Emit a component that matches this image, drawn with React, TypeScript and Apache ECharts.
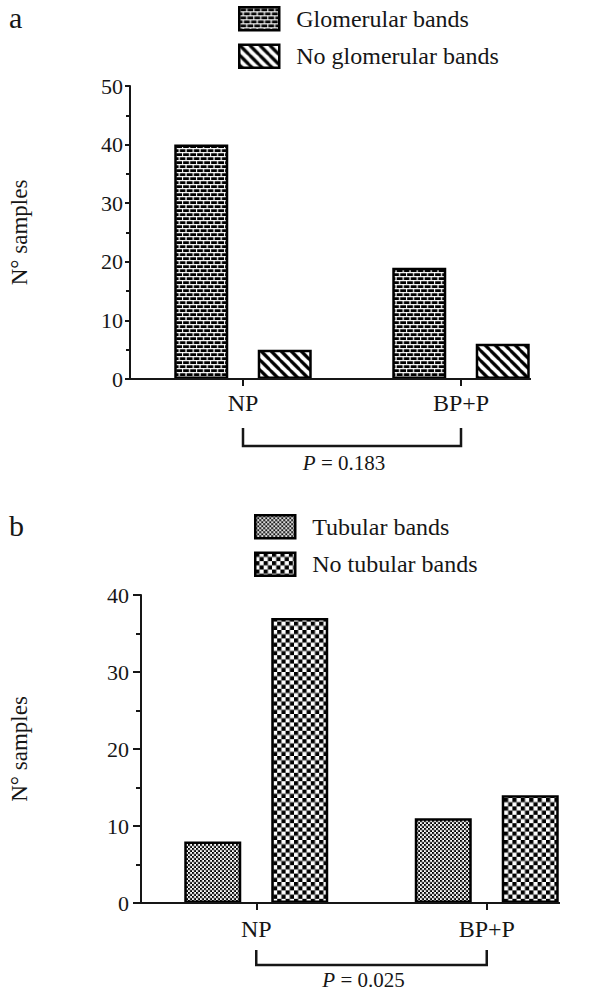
import React, { useEffect, useRef } from 'react';
import * as echarts from 'echarts';

// ---------- Panel a ----------
const categoriesA = ['NP', 'BP+P'];
const glomerularBands = [40, 19];
const noGlomerularBands = [5, 6];
const yMinA = 0;
const yMaxA = 50;
const yStepA = 10;
const pValueA = '0.183';

// ---------- Panel b ----------
const categoriesB = ['NP', 'BP+P'];
const tubularBands = [8, 11];
const noTubularBands = [37, 14];
const yMinB = 0;
const yMaxB = 40;
const yStepB = 10;
const pValueB = '0.025';

const FONT = '"Liberation Serif","Times New Roman",Times,serif';
const INK = '#161616';

type Draw = (ctx: CanvasRenderingContext2D) => void;
function makePattern(w: number, h: number, draw: Draw) {
  const S = 10;
  const c = document.createElement('canvas');
  c.width = Math.round(w * S);
  c.height = Math.round(h * S);
  const ctx = c.getContext('2d') as CanvasRenderingContext2D;
  ctx.scale(S, S);
  draw(ctx);
  return { image: c.toDataURL('image/png'), repeat: 'repeat', imageWidth: w, imageHeight: h };
}

// layout constants (styles, not data)
const A = { left: 130, width: 440, top: 86, height: 293, offset: 4, barW: 54, gapPct: 54.6 };
const B = { left: 140, width: 462, top: 595, height: 308, offset: 0, barW: 57, gapPct: 52.6 };

export default function App() {
  const ref = useRef<HTMLDivElement>(null);

  useEffect(() => {
    document.body.style.margin = '0';
    if (!ref.current) return;
    const chart = echarts.init(ref.current, undefined, { renderer: 'svg' });

    const brick = makePattern(14, 8, (ctx) => {
      ctx.fillStyle = '#000';
      ctx.fillRect(0, 0, 14, 8);
      ctx.fillStyle = '#fff';
      const t = 1.2;
      ctx.fillRect(0, 0, 14, t);
      ctx.fillRect(0, 4, 14, t);
      ctx.fillRect(0, 0, t, 4);
      ctx.fillRect(7, 0, t, 4);
      ctx.fillRect(3.5, 4, t, 4);
      ctx.fillRect(10.5, 4, t, 4);
    });
    const stripes = makePattern(10, 10, (ctx) => {
      ctx.fillStyle = '#fff';
      ctx.fillRect(0, 0, 10, 10);
      ctx.strokeStyle = '#000';
      ctx.lineWidth = 3.2;
      for (const k of [-1, 0, 1]) {
        ctx.beginPath();
        ctx.moveTo(k * 10 - 5, -5);
        ctx.lineTo(k * 10 + 15, 15);
        ctx.stroke();
      }
    });
    const fineChecker = makePattern(4, 4, (ctx) => {
      ctx.fillStyle = '#fff';
      ctx.fillRect(0, 0, 4, 4);
      ctx.fillStyle = '#000';
      ctx.fillRect(0, 0, 2, 2);
      ctx.fillRect(2, 2, 2, 2);
    });
    const coarseChecker = makePattern(8.4, 8.4, (ctx) => {
      ctx.fillStyle = '#fff';
      ctx.fillRect(0, 0, 8.4, 8.4);
      ctx.fillStyle = '#000';
      ctx.fillRect(0, 0, 4.2, 4.2);
      ctx.fillRect(4.2, 4.2, 4.2, 4.2);
    });

    const xAxisCommon = (gridIndex: number, data: string[], margin: number) => ({
      type: 'category',
      gridIndex,
      data,
      axisLine: { show: false },
      axisTick: { show: true, alignWithLabel: true, length: 7, lineStyle: { color: INK, width: 2 } },
      axisLabel: { fontFamily: FONT, fontSize: 24, color: INK, margin },
      splitLine: { show: false },
    });

    const yAxisCommon = (
      gridIndex: number,
      min: number,
      max: number,
      step: number,
      offset: number,
      nameGap: number,
      tickLen: number,
      minorLen: number,
      labelMargin: number
    ) => ({
      type: 'value',
      gridIndex,
      min,
      max,
      interval: step,
      offset,
      name: 'N° samples',
      nameLocation: 'middle',
      nameRotate: 90,
      nameGap,
      nameTextStyle: { fontFamily: FONT, fontSize: 23, color: INK },
      axisLine: { show: true, lineStyle: { color: INK, width: 2 } },
      axisTick: { show: true, length: tickLen, lineStyle: { color: INK, width: 2 } },
      minorTick: { show: true, splitNumber: 2, length: minorLen, lineStyle: { color: INK, width: 2 } },
      axisLabel: { fontFamily: FONT, fontSize: 22, color: INK, margin: labelMargin },
      splitLine: { show: false },
      minorSplitLine: { show: false },
    });

    const border = { borderColor: '#000', borderWidth: 2.5 };

    const legendCommon = (left: number, top: number, data: string[]) => ({
      orient: 'vertical',
      left,
      top,
      padding: 0,
      itemWidth: 40,
      itemHeight: 23,
      itemGap: 12,
      icon: 'rect',
      selectedMode: false,
      data,
      itemStyle: { borderColor: '#000', borderWidth: 2.5 },
      textStyle: { fontFamily: FONT, fontSize: 24, lineHeight: 24, color: INK, padding: [0, 0, 0, 12] },
    });

    const option: any = {
      animation: false,
      backgroundColor: '#fff',
      title: [
        { text: 'a', left: 9, top: 2, padding: 0, textStyle: { fontFamily: FONT, fontSize: 30, fontWeight: 'normal', color: INK } },
        { text: 'b', left: 9, top: 510, padding: 0, textStyle: { fontFamily: FONT, fontSize: 30, fontWeight: 'normal', color: INK } },
      ],
      legend: [
        legendCommon(238, 6, ['Glomerular bands', 'No glomerular bands']),
        legendCommon(254, 514, ['Tubular bands', 'No tubular bands']),
      ],
      grid: [
        { left: A.left, width: A.width, top: A.top, height: A.height },
        { left: B.left, width: B.width, top: B.top, height: B.height },
      ],
      xAxis: [xAxisCommon(0, categoriesA, 12), xAxisCommon(1, categoriesB, 14)],
      yAxis: [
        yAxisCommon(0, yMinA, yMaxA, yStepA, A.offset, 99, 5, 4, 7),
        yAxisCommon(1, yMinB, yMaxB, yStepB, B.offset, 110, 8, 5, 12),
      ],
      series: [
        {
          type: 'bar',
          name: 'Glomerular bands',
          xAxisIndex: 0,
          yAxisIndex: 0,
          data: glomerularBands,
          barWidth: A.barW,
          barGap: A.gapPct + '%',
          itemStyle: { color: brick, ...border },
        },
        {
          type: 'bar',
          name: 'No glomerular bands',
          xAxisIndex: 0,
          yAxisIndex: 0,
          data: noGlomerularBands,
          barWidth: A.barW,
          barGap: A.gapPct + '%',
          itemStyle: { color: stripes, ...border },
        },
        {
          type: 'bar',
          name: 'Tubular bands',
          xAxisIndex: 1,
          yAxisIndex: 1,
          data: tubularBands,
          barWidth: B.barW,
          barGap: B.gapPct + '%',
          itemStyle: { color: fineChecker, ...border },
        },
        {
          type: 'bar',
          name: 'No tubular bands',
          xAxisIndex: 1,
          yAxisIndex: 1,
          data: noTubularBands,
          barWidth: B.barW,
          barGap: B.gapPct + '%',
          itemStyle: { color: coarseChecker, ...border },
        },
      ],
    };

    chart.setOption(option);

    const annotations = (
      axisIdx: number,
      cats: string[],
      cfg: typeof A,
      pText: string,
      dyTop: number,
      dyH: number,
      dyText: number
    ) => {
      const xs = cats.map((c) => chart.convertToPixel({ xAxisIndex: axisIdx } as any, c) as number);
      const y0 = chart.convertToPixel({ yAxisIndex: axisIdx } as any, 0) as number;
      const axisX = cfg.left - cfg.offset;
      const gapPx = (cfg.barW * cfg.gapPct) / 100;
      const xEnd = xs[xs.length - 1] + gapPx / 2 + cfg.barW + 1.25;
      return [
        {
          type: 'line',
          z: 10,
          shape: { x1: axisX - 1, y1: y0, x2: xEnd, y2: y0 },
          style: { stroke: INK, lineWidth: 2 },
        },
        {
          type: 'polyline',
          shape: {
            points: [
              [xs[0], y0 + dyTop],
              [xs[0], y0 + dyH],
              [xs[xs.length - 1], y0 + dyH],
              [xs[xs.length - 1], y0 + dyTop],
            ],
          },
          style: { stroke: INK, lineWidth: 2.5, fill: null },
        },
        {
          type: 'text',
          x: (xs[0] + xs[xs.length - 1]) / 2 - 8,
          y: y0 + dyText,
          style: {
            text: '{i|P} = ' + pText,
            rich: { i: { fontStyle: 'italic', fontFamily: FONT, fontSize: 21, fill: INK } },
            fontFamily: FONT,
            fontSize: 21,
            fill: INK,
            align: 'center',
            verticalAlign: 'middle',
          },
        },
      ];
    };

    chart.setOption({
      graphic: [
        ...annotations(0, categoriesA, A, pValueA, 49, 67, 84),
        ...annotations(1, categoriesB, B, pValueB, 47, 62, 77),
      ],
    });

    return () => chart.dispose();
  }, []);

  return <div ref={ref} style={{ width: 608, height: 993 }} />;
}
